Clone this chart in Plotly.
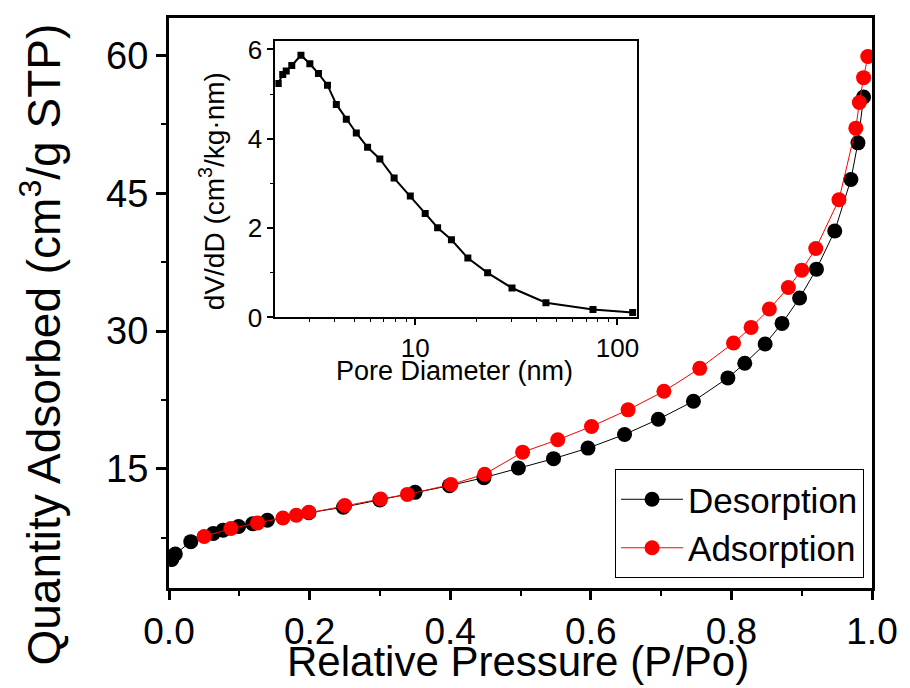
import plotly.graph_objects as go

# Main isotherm data
des_p = [0.004, 0.009, 0.031, 0.063, 0.077, 0.099, 0.119, 0.140, 0.199, 0.248, 0.300, 0.350,
         0.399, 0.448, 0.497, 0.547, 0.596, 0.648, 0.696, 0.746, 0.795, 0.819, 0.848, 0.872,
         0.897, 0.921, 0.947, 0.970, 0.980, 0.988]
des_q = [5.1, 5.7, 7.05, 7.95, 8.3, 8.7, 9.0, 9.38, 10.2, 10.8, 11.6, 12.42,
         13.15, 14.02, 15.07, 16.09, 17.24, 18.73, 20.38, 22.35, 24.89, 26.48, 28.59, 30.83,
         33.59, 36.74, 40.9, 46.5, 50.5, 55.5]
ads_p = [0.050, 0.088, 0.126, 0.162, 0.181, 0.199, 0.250, 0.301, 0.339, 0.401, 0.449, 0.503,
         0.553, 0.601, 0.653, 0.704, 0.755, 0.803, 0.828, 0.854, 0.881, 0.900, 0.920, 0.953,
         0.977, 0.982, 0.988, 0.994]
ads_q = [7.61, 8.48, 9.09, 9.63, 9.92, 10.25, 10.98, 11.7, 12.2, 13.27, 14.4, 16.8,
         18.15, 19.6, 21.41, 23.43, 25.93, 28.7, 30.39, 32.39, 34.74, 36.63, 38.98, 44.3,
         52.1, 54.9, 57.6, 59.9]

# Inset pore size distribution
pore_d = [2.10, 2.21, 2.30, 2.45, 2.72, 3.01, 3.32, 3.68, 4.07, 4.56, 5.11, 5.81,
          6.68, 7.86, 9.45, 11.2, 12.9, 15.1, 18.2, 22.8, 30.1, 44.3, 75.7, 119]
dvdd = [5.24, 5.44, 5.52, 5.64, 5.87, 5.68, 5.46, 5.20, 4.77, 4.44, 4.13, 3.81,
        3.55, 3.12, 2.72, 2.33, 2.01, 1.74, 1.33, 1.00, 0.66, 0.33, 0.18, 0.11]

main_xticks = [0.0, 0.2, 0.4, 0.6, 0.8, 1.0]
main_yticks = [15, 30, 45, 60]
inset_xticks = [10, 100]
inset_yticks = [0, 2, 4, 6]
inset_minor_x = [2, 3, 4, 5, 6, 7, 8, 9, 20, 30, 40, 50, 60, 70, 80, 90]

FONT = "Arial, Liberation Sans, sans-serif"

fig = go.Figure()
fig.add_trace(go.Scatter(x=des_p, y=des_q, mode="lines+markers", name="Desorption",
                         line=dict(color="black", width=1),
                         marker=dict(color="black", size=15, symbol="circle")))
fig.add_trace(go.Scatter(x=ads_p, y=ads_q, mode="lines+markers", name="Adsorption",
                         line=dict(color="#ff0000", width=1),
                         marker=dict(color="#ff0000", size=15, symbol="circle")))
fig.add_trace(go.Scatter(x=pore_d, y=dvdd, mode="lines+markers", showlegend=False,
                         xaxis="x2", yaxis="y2",
                         line=dict(color="black", width=2),
                         marker=dict(color="black", size=7, symbol="square")))

fig.update_layout(
    width=910, height=688,
    margin=dict(l=169, r=34, t=17, b=100),
    paper_bgcolor="white", plot_bgcolor="white",
    font=dict(family=FONT, color="black"),
    showlegend=True,
    legend=dict(x=0.9887, y=0.0175, xanchor="right", yanchor="bottom",
                bordercolor="black", borderwidth=1, bgcolor="white",
                font=dict(size=35, family=FONT), tracegroupgap=0, itemwidth=62),
    xaxis=dict(range=[0, 1], tickvals=main_xticks, ticktext=[f"{v:.1f}" for v in main_xticks],
               showline=True, linecolor="black", linewidth=3, mirror=True,
               ticks="outside", ticklen=9, tickwidth=3, tickcolor="black",
               minor=dict(dtick=0.1, tick0=0, ticks="outside", ticklen=5, tickwidth=2, tickcolor="black"),
               showgrid=False, zeroline=False, tickfont=dict(size=37, family=FONT)),
    yaxis=dict(range=[2, 64.1], tickvals=main_yticks,
               showline=True, linecolor="black", linewidth=3, mirror=True,
               ticks="outside", ticklen=10, tickwidth=3, tickcolor="black",
               minor=dict(dtick=7.5, tick0=0, ticks="outside", ticklen=5, tickwidth=2, tickcolor="black"),
               showgrid=False, zeroline=False, tickfont=dict(size=38, family=FONT)),
    xaxis2=dict(type="log", range=[0.308, 2.095], domain=[0.1513, 0.6652], anchor="y2",
                tickvals=inset_xticks, ticktext=["10", "100"],
                showline=True, linecolor="black", linewidth=2, mirror=True,
                ticks="outside", ticklen=6, tickwidth=2, tickcolor="black",
                minor=dict(tickvals=inset_minor_x, ticks="outside", ticklen=3, tickwidth=1, tickcolor="black"),
                showgrid=False, zeroline=False, tickfont=dict(size=26, family=FONT)),
    yaxis2=dict(range=[0, 6.19], domain=[0.4746, 0.9597], anchor="x2",
                tickvals=inset_yticks,
                showline=True, linecolor="black", linewidth=2, mirror=True,
                ticks="outside", ticklen=6, tickwidth=2, tickcolor="black",
                minor=dict(dtick=1, tick0=0, ticks="outside", ticklen=3, tickwidth=1, tickcolor="black"),
                showgrid=False, zeroline=False, tickfont=dict(size=26, family=FONT)),
)

fig.add_annotation(text="Relative Pressure (P/Po)", xref="paper", yref="paper",
                   x=0.4965, y=-0.129, xanchor="center", yanchor="middle", showarrow=False,
                   font=dict(size=42, family=FONT))
fig.add_annotation(text="Quantity Adsorbed (cm<sup>3</sup>/g STP)", xref="paper", yref="paper",
                   x=-0.182, y=0.4273, xanchor="center", yanchor="middle", showarrow=False,
                   textangle=-90, font=dict(size=46, family=FONT))
fig.add_annotation(text="Pore Diameter (nm)", xref="paper", yref="paper",
                   x=0.406, y=0.381, xanchor="center", yanchor="middle", showarrow=False,
                   font=dict(size=27, family=FONT))
fig.add_annotation(text="dV/dD (cm<sup>3</sup>/kg·nm)", xref="paper", yref="paper",
                   x=0.0604, y=0.697, xanchor="center", yanchor="middle", showarrow=False,
                   textangle=-90, font=dict(size=28, family=FONT))

fig.write_html("out.html", config={"displayModeBar": False},
               post_script="document.body.style.margin='0';")
